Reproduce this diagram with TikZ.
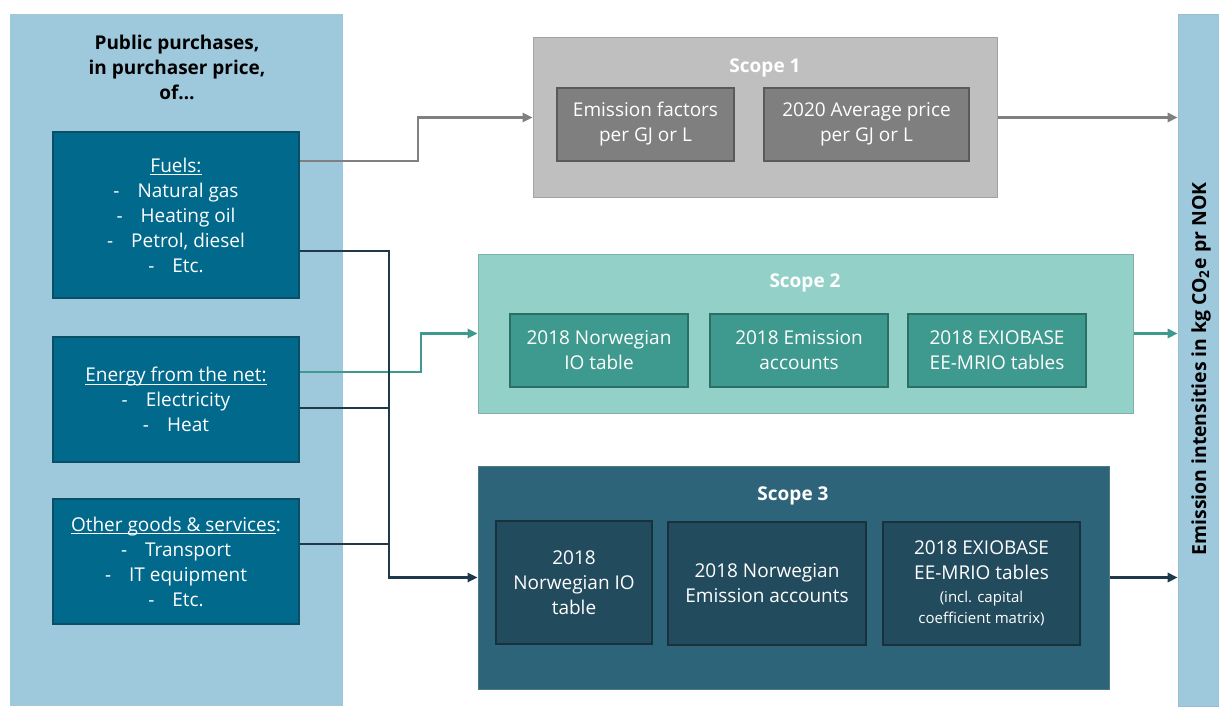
\documentclass[tikz,border=0pt]{standalone}
\usepackage{fontspec}
\setmainfont{Open Sans}
\usetikzlibrary{arrows.meta}
\definecolor{panel}{HTML}{9EC8DC}
\definecolor{inbox}{HTML}{00698C}
\definecolor{inboxb}{HTML}{0B4F66}
\definecolor{sone}{HTML}{BFBFBF}
\definecolor{sonein}{HTML}{7F7F7F}
\definecolor{soneb}{HTML}{5A5A5A}
\definecolor{stwo}{HTML}{93D0C8}
\definecolor{stwoin}{HTML}{3E9A8F}
\definecolor{stwob}{HTML}{2B6E66}
\definecolor{sthree}{HTML}{2E6479}
\definecolor{sthreein}{HTML}{234B5E}
\definecolor{sthreeb}{HTML}{17313D}
\definecolor{dline}{HTML}{1E3A4A}
\definecolor{gline}{HTML}{808080}
\newcommand\ul[1]{\underline{\smash{#1}}\vphantom{#1}}
\begin{document}
\begin{tikzpicture}[x=0.5pt,y=-0.5pt,
  txt/.style={font=\fontsize{9.5}{12.5}\selectfont, text=white, align=center},
  inputbox/.style={txt, fill=inbox, draw=inboxb, line width=0.8pt, minimum width=123pt, inner sep=0pt},
  scopebox/.style={inner sep=0pt, line width=0.5pt},
  stitle/.style={font=\bfseries\fontsize{9.5}{12}\selectfont, text=white},
  onein/.style={txt, fill=sonein, draw=soneb, line width=0.6pt, minimum height=36.5pt, inner sep=0pt},
  twoin/.style={txt, fill=stwoin, draw=stwob, line width=0.6pt, minimum height=36.5pt, minimum width=89pt, inner sep=0pt},
  threein/.style={txt, fill=sthreein, draw=sthreeb, line width=0.6pt, inner sep=0pt},
  tip/.style={-{Triangle[length=5pt,width=4.6pt]}},
  grayconn/.style={draw=gline, line width=1.3pt},
  tealconn/.style={draw=stwoin, line width=1.3pt},
  darkconn/.style={draw=dline, line width=1.3pt},
]
\useasboundingbox (0,0) rectangle (1219,706);
\fill[white] (0,0) rectangle (1219,706);

% left panel and right bar
\node[fill=panel, minimum width=166.5pt, minimum height=346pt, inner sep=0pt] (panel) at (176.5,360) {};
\node[fill=panel, draw=panel!85!gray, line width=0.4pt, minimum width=20.5pt, minimum height=346pt, inner sep=0pt] (bar) at (1198.5,360) {};
\node[rotate=90, font=\bfseries\fontsize{9.7}{11}\selectfont] (bartext) at (1201,369) {Emission intensities in kg CO\textsubscript{2}e pr NOK};

\node[align=center, font=\bfseries\fontsize{9.5}{12.5}\selectfont] (ptitle) at (177,67) {Public purchases,\\in purchaser price,\\of\ldots};

% input boxes
\node[inputbox, minimum height=83pt] (fuels) at (176,215) {\ul{Fuels:}\\-\hspace{9pt}Natural gas\\-\hspace{9pt}Heating oil\\-\hspace{9pt}Petrol, diesel\\-\hspace{9pt}Etc.};
\node[inputbox, minimum height=62.5pt] (energy) at (176,399.5) {\ul{Energy from the net:}\\-\hspace{9pt}Electricity\\-\hspace{9pt}Heat};
\node[inputbox, minimum height=62.5pt] (other) at (176,561.5) {\ul{Other goods \& services}:\\-\hspace{9pt}Transport\\-\hspace{9pt}IT equipment\\-\hspace{9pt}Etc.};

% scope 1
\node[scopebox, fill=sone, draw=sone!85!black, minimum width=232pt, minimum height=79.5pt] (scope1) at (765,117.5) {};
\node[stitle] (s1title) at (765,68) {Scope 1};
\node[onein, minimum width=88.5pt] (s1a) at (645.5,124.5) {Emission factors\\per GJ or L};
\node[onein, minimum width=102.5pt] (s1b) at (866.5,124.5) {2020 Average price\\per GJ or L};

% scope 2
\node[scopebox, fill=stwo, draw=stwo!85!black, minimum width=327.5pt, minimum height=79.5pt] (scope2) at (805.5,333.5) {};
\node[stitle] (s2title) at (805,283) {Scope 2};
\node[twoin] (s2a) at (599,350.5) {2018 Norwegian\\IO table};
\node[twoin] (s2b) at (799,350.5) {2018 Emission\\accounts};
\node[twoin] (s2c) at (997,350.5) {2018 EXIOBASE\\EE-MRIO tables};

% scope 3
\node[scopebox, fill=sthree, draw=sthree!85!white, minimum width=315.5pt, minimum height=111.5pt] (scope3) at (793.5,577.5) {};
\node[stitle] (s3title) at (793,496) {Scope 3};
\node[threein, minimum width=78pt, minimum height=61.5pt] (s3a) at (574,582.5) {2018\\Norwegian IO\\table};
\node[threein, minimum width=99pt, minimum height=61.5pt] (s3b) at (767,583.5) {2018 Norwegian\\Emission accounts};
\node[threein, minimum width=98.5pt, minimum height=61.5pt] (s3c) at (981.5,583.5) {2018 EXIOBASE\\EE-MRIO tables\\[-1pt]{\fontsize{7.5}{10}\selectfont (incl. capital}\\[-2pt]{\fontsize{7.5}{10}\selectfont coefficient matrix)}};

% connectors
\draw[grayconn, tip] ([yshift=27pt]fuels.east) -- ++(59pt,0) |- (scope1.west);
\draw[tealconn, tip] ([yshift=13.75pt]energy.east) -- ++(60.5pt,0) |- (scope2.west);
\draw[darkconn, tip] ([yshift=-18pt]fuels.east) -- ++(44.5pt,0) |- (scope3.west);
\draw[darkconn] ([yshift=-4.25pt]energy.east) -- ++(44.5pt,0);
\draw[darkconn] ([yshift=8.75pt]other.east) -- ++(44.5pt,0);

\draw[grayconn, tip] (scope1.east) -- (bar.west |- scope1.east);
\draw[tealconn, tip] (scope2.east) -- (bar.west |- scope2.east);
\draw[darkconn, tip] (scope3.east) -- (bar.west |- scope3.east);
\end{tikzpicture}
\end{document}
